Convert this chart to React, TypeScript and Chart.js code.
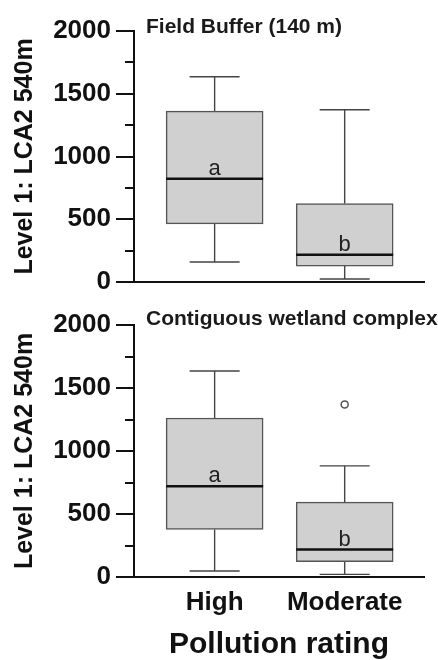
import React, { useEffect, useRef } from 'react';
import { Chart, registerables } from 'chart.js';

Chart.register(...registerables);

const FONT = '"Liberation Sans", Arial, Helvetica, sans-serif';

const categories = ['High', 'Moderate'];
const yAxisTitle = 'Level 1: LCA2 540m';
const xAxisTitle = 'Pollution rating';
const yMajorTicks = [0, 500, 1000, 1500, 2000];
const yMinorTicks = [250, 750, 1250, 1750];

// Panel 1: Field Buffer (140 m)
const bufferTitle = 'Field Buffer (140 m)';
const bufferMin = [159, 24];
const bufferQ1 = [463, 127];
const bufferMedian = [823, 217];
const bufferQ3 = [1362, 625];
const bufferMax = [1635, 1373];
const bufferOutliers: number[][] = [[], []];
const bufferLetters = ['a', 'b'];

// Panel 2: Contiguous wetland complex
const wetlandTitle = 'Contiguous wetland complex';
const wetlandMin = [48, 21];
const wetlandQ1 = [377, 122];
const wetlandMedian = [721, 218];
const wetlandQ3 = [1262, 594];
const wetlandMax = [1635, 882];
const wetlandOutliers: number[][] = [[], [1370]];
const wetlandLetters = ['a', 'b'];

type PanelProps = {
  width: number;
  height: number;
  title: string;
  titleDy: number;
  mins: number[];
  q1s: number[];
  meds: number[];
  q3s: number[];
  maxs: number[];
  outliers: number[][];
  letters: string[];
  showX: boolean;
  padTop: number;
  xAxisHeight: number;
};

function Panel(p: PanelProps) {
  const ref = useRef<HTMLCanvasElement | null>(null);
  useEffect(() => {
    if (!ref.current) return;
    const extras = {
      id: 'boxExtras',
      afterDatasetsDraw(chart: any) {
        const { ctx, chartArea } = chart;
        const x = chart.scales.x;
        const y = chart.scales.y;
        const meta = chart.getDatasetMeta(0);
        ctx.save();
        categories.forEach((_, i) => {
          const cx = x.getPixelForValue(i + 1);
          const half = 25;
          const pMax = y.getPixelForValue(p.maxs[i]);
          const pMin = y.getPixelForValue(p.mins[i]);
          const pQ1 = y.getPixelForValue(p.q1s[i]);
          const pQ3 = y.getPixelForValue(p.q3s[i]);
          ctx.strokeStyle = '#444';
          ctx.lineWidth = 1.4;
          ctx.beginPath();
          ctx.moveTo(cx, pQ3);
          ctx.lineTo(cx, pMax);
          ctx.moveTo(cx - half, pMax);
          ctx.lineTo(cx + half, pMax);
          ctx.moveTo(cx, pQ1);
          ctx.lineTo(cx, pMin);
          ctx.moveTo(cx - half, pMin);
          ctx.lineTo(cx + half, pMin);
          ctx.stroke();
          const bar = meta.data[i];
          const bw = bar ? bar.width : 97;
          const pMed = y.getPixelForValue(p.meds[i]);
          ctx.strokeStyle = '#111';
          ctx.lineWidth = 2.5;
          ctx.beginPath();
          ctx.moveTo(cx - bw / 2, pMed);
          ctx.lineTo(cx + bw / 2, pMed);
          ctx.stroke();
          ctx.font = `22px ${FONT}`;
          ctx.fillStyle = '#222';
          ctx.textAlign = 'center';
          ctx.textBaseline = 'alphabetic';
          ctx.fillText(p.letters[i], cx, pMed - 4);
        });
        ctx.strokeStyle = '#111';
        ctx.lineWidth = 2;
        yMinorTicks.forEach((v) => {
          const py = Math.round(y.getPixelForValue(v));
          ctx.beginPath();
          ctx.moveTo(y.right - 9, py);
          ctx.lineTo(y.right, py);
          ctx.stroke();
        });
        ctx.font = `bold 21px ${FONT}`;
        ctx.fillStyle = '#1a1a1a';
        ctx.textAlign = 'left';
        ctx.textBaseline = 'alphabetic';
        ctx.fillText(p.title, chartArea.left + 12, chartArea.top + p.titleDy);
        ctx.restore();
      },
    };

    const chart = new Chart(ref.current, {
      type: 'bar',
      data: {
        datasets: [
          {
            type: 'bar',
            data: categories.map((_, i) => ({ x: i + 1, y: [p.q1s[i], p.q3s[i]] })) as any,
            backgroundColor: '#d0d0d0',
            borderColor: '#555',
            borderWidth: 1.5,
            borderSkipped: false,
            barThickness: 97,
            order: 2,
          } as any,
          {
            type: 'scatter',
            data: p.outliers.flatMap((arr, i) => arr.map((v) => ({ x: i + 1, y: v }))),
            pointStyle: 'circle',
            pointRadius: 3.5,
            pointBackgroundColor: '#fff',
            pointBorderColor: '#555',
            pointBorderWidth: 1.5,
            order: 1,
          } as any,
        ],
      },
      options: {
        responsive: false,
        animation: false,
        devicePixelRatio: 1,
        layout: { padding: { top: p.padTop, right: 14, left: 0, bottom: 0 } },
        plugins: {
          legend: { display: false },
          tooltip: { enabled: false },
          title: { display: false },
        },
        scales: {
          x: {
            type: 'linear',
            min: 0.38,
            max: 2.61,
            offset: false,
            grid: { display: false, offset: false },
            border: { display: true, color: '#111', width: 2 },
            afterBuildTicks: (s: any) => {
              s.ticks = categories.map((_, i) => ({ value: i + 1 }));
            },
            ticks: {
              display: p.showX,
              autoSkip: false,
              maxRotation: 0,
              padding: 2,
              color: '#111',
              font: { family: FONT, size: 26, weight: 'bold' },
              callback: (v: any) => categories[Number(v) - 1] ?? '',
            },
            title: {
              display: p.showX,
              text: xAxisTitle,
              color: '#111',
              padding: 0,
              font: { family: FONT, size: 30, weight: 'bold', lineHeight: 1 },
            },
            afterFit: (s: any) => {
              s.height = p.xAxisHeight;
            },
          },
          y: {
            min: 0,
            max: 2000,
            afterBuildTicks: (s: any) => {
              s.ticks = yMajorTicks.map((v) => ({ value: v }));
            },
            ticks: {
              padding: 5,
              color: '#111',
              font: { family: FONT, size: 26, weight: 'bold', lineHeight: 1 },
              callback: (v: any) => String(v),
            },
            grid: {
              drawOnChartArea: false,
              drawTicks: true,
              tickLength: 18,
              tickColor: '#111',
              tickWidth: 2,
              lineWidth: 2,
            },
            border: { display: true, color: '#111', width: 2 },
            title: {
              display: true,
              text: yAxisTitle,
              color: '#111',
              padding: { top: 10, bottom: 0 },
              font: { family: FONT, size: 25, weight: 'bold' },
            },
            afterFit: (s: any) => {
              s.width = 134;
            },
          },
        },
      } as any,
      plugins: [extras],
    });
    return () => chart.destroy();
  }, []);
  return (
    <canvas
      ref={ref}
      width={p.width}
      height={p.height}
      style={{ display: 'block', width: p.width, height: p.height }}
    />
  );
}

export default function App() {
  return (
    <div
      style={{
        position: 'absolute',
        left: 0,
        top: 0,
        width: 438,
        height: 660,
        background: '#fff',
      }}
    >
      <Panel
        width={438}
        height={300}
        title={bufferTitle}
        titleDy={2}
        mins={bufferMin}
        q1s={bufferQ1}
        meds={bufferMedian}
        q3s={bufferQ3}
        maxs={bufferMax}
        outliers={bufferOutliers}
        letters={bufferLetters}
        showX={false}
        padTop={31}
        xAxisHeight={15}
      />
      <Panel
        width={438}
        height={360}
        title={wetlandTitle}
        titleDy={0}
        mins={wetlandMin}
        q1s={wetlandQ1}
        meds={wetlandMedian}
        q3s={wetlandQ3}
        maxs={wetlandMax}
        outliers={wetlandOutliers}
        letters={wetlandLetters}
        showX={true}
        padTop={25}
        xAxisHeight={83}
      />
    </div>
  );
}
